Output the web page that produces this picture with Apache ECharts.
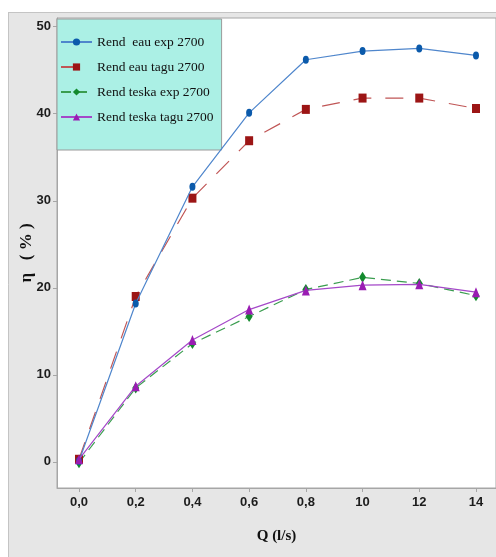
<!DOCTYPE html>
<html>
<head>
<meta charset="utf-8">
<script src="https://cdn.jsdelivr.net/npm/echarts@6/dist/echarts.min.js"></script>
<style>html,body{margin:0;padding:0;background:#fff}#c{width:496px;height:557px}</style>
</head>
<body>
<div id="c"></div>
<script>
var categories = ['0,0', '0,2', '0,4', '0,6', '0,8', '10', '12', '14'];
var yTicks = [0, 10, 20, 30, 40, 50];
var seriesNames = ['Rend  eau exp 2700', 'Rend eau tagu 2700', 'Rend teska exp 2700', 'Rend teska tagu 2700'];
var eauExp = [0.1, 18.2, 31.6, 40.1, 46.2, 47.2, 47.5, 46.7];
var eauTagu = [0.3, 19.0, 30.3, 36.9, 40.5, 41.8, 41.8, 40.6];
var teskaExp = [-0.1, 8.5, 13.6, 16.7, 19.8, 21.2, 20.5, 19.1];
var teskaTagu = [0.3, 8.7, 14.0, 17.5, 19.7, 20.3, 20.4, 19.5];

function pairs(arr) { return arr.map(function (v, i) { return [i, v]; }); }
var xIdx = categories.map(function (c, i) { return i; });

var chart = echarts.init(document.getElementById('c'), null, { renderer: 'canvas' });
var labelFont = { fontFamily: 'Liberation Sans Narrow, Arial Narrow, Liberation Sans, sans-serif', fontWeight: 'bold', fontSize: 13, color: '#1c1c1c' };

chart.setOption({
  backgroundColor: '#e6e6e6',
  animation: false,
  graphic: [
    { type: 'rect', shape: { x: 0, y: 0, width: 496, height: 12 }, style: { fill: '#ffffff' }, silent: true },
    { type: 'rect', shape: { x: 0, y: 0, width: 8, height: 557 }, style: { fill: '#ffffff' }, silent: true },
    { type: 'line', shape: { x1: 8, y1: 12.5, x2: 496, y2: 12.5 }, style: { stroke: '#c4c4c4', lineWidth: 1 }, silent: true },
    { type: 'line', shape: { x1: 8.5, y1: 12, x2: 8.5, y2: 557 }, style: { stroke: '#c4c4c4', lineWidth: 1 }, silent: true }
  ],
  grid: {
    left: 57, top: 18, right: 0, bottom: 69,
    show: true, backgroundColor: '#ffffff', borderColor: '#a6a6a6', borderWidth: 1,
    containLabel: false
  },
  legend: {
    orient: 'vertical',
    left: 57, top: 19,
    padding: [16, 8, 26, 3],
    itemGap: 11,
    itemWidth: 31,
    itemHeight: 9,
    backgroundColor: '#abf0e5',
    borderColor: '#9a9a9a',
    borderWidth: 1,
    borderRadius: 0,
    textStyle: { fontFamily: 'Liberation Serif, Times New Roman, serif', fontSize: 13.5, color: '#111', lineHeight: 12 },
    data: seriesNames
  },
  xAxis: {
    type: 'value',
    min: -0.388, max: 7.353,
    name: 'Q (l/s)',
    nameLocation: 'middle',
    nameGap: 41,
    nameTextStyle: { fontFamily: 'Liberation Serif, Times New Roman, serif', fontWeight: 'bold', fontSize: 15, color: '#111' },
    axisLine: { onZero: false, lineStyle: { color: '#a6a6a6' } },
    axisTick: { show: true, length: 4, inside: false, customValues: xIdx, lineStyle: { color: '#a6a6a6' } },
    axisLabel: Object.assign({ margin: 8, customValues: xIdx, formatter: function (v) { return categories[Math.round(v)]; } }, labelFont),
    splitLine: { show: false }
  },
  yAxis: {
    type: 'value',
    min: -3, max: 51,
    name: 'η   ( % )',
    nameLocation: 'middle',
    nameGap: 22,
    nameMoveOverlap: false,
    nameTextStyle: { fontFamily: 'Liberation Serif, Times New Roman, serif', fontWeight: 'bold', fontSize: 17, color: '#111' },
    axisLine: { show: true, onZero: false, lineStyle: { color: '#a6a6a6' } },
    axisTick: { show: true, length: 4, customValues: yTicks, lineStyle: { color: '#a6a6a6' } },
    axisLabel: Object.assign({ margin: 6, customValues: yTicks }, labelFont),
    splitLine: { show: false }
  },
  series: [
    {
      name: seriesNames[0], type: 'line', data: pairs(eauExp),
      symbol: 'circle', symbolSize: [6, 8],
      itemStyle: { color: '#0b5aab' },
      lineStyle: { color: '#4f86cc', width: 1.2, type: 'solid' },
      z: 4
    },
    {
      name: seriesNames[1], type: 'line', data: pairs(eauTagu),
      symbol: 'rect', symbolSize: [8, 9],
      itemStyle: { color: '#9c1515' },
      lineStyle: { color: '#c05656', width: 1.2, type: [18, 14] },
      z: 3
    },
    {
      name: seriesNames[2], type: 'line', data: pairs(teskaExp),
      symbol: 'diamond', symbolSize: [7, 11],
      itemStyle: { color: '#138a2d' },
      lineStyle: { color: '#3a9d4f', width: 1.2, type: [10, 6] },
      z: 2
    },
    {
      name: seriesNames[3], type: 'line', data: pairs(teskaTagu),
      symbol: 'triangle', symbolSize: [8, 10],
      itemStyle: { color: '#9a1cb3' },
      lineStyle: { color: '#a448c8', width: 1.2, type: 'solid' },
      z: 5
    }
  ]
});
</script>
</body>
</html>
